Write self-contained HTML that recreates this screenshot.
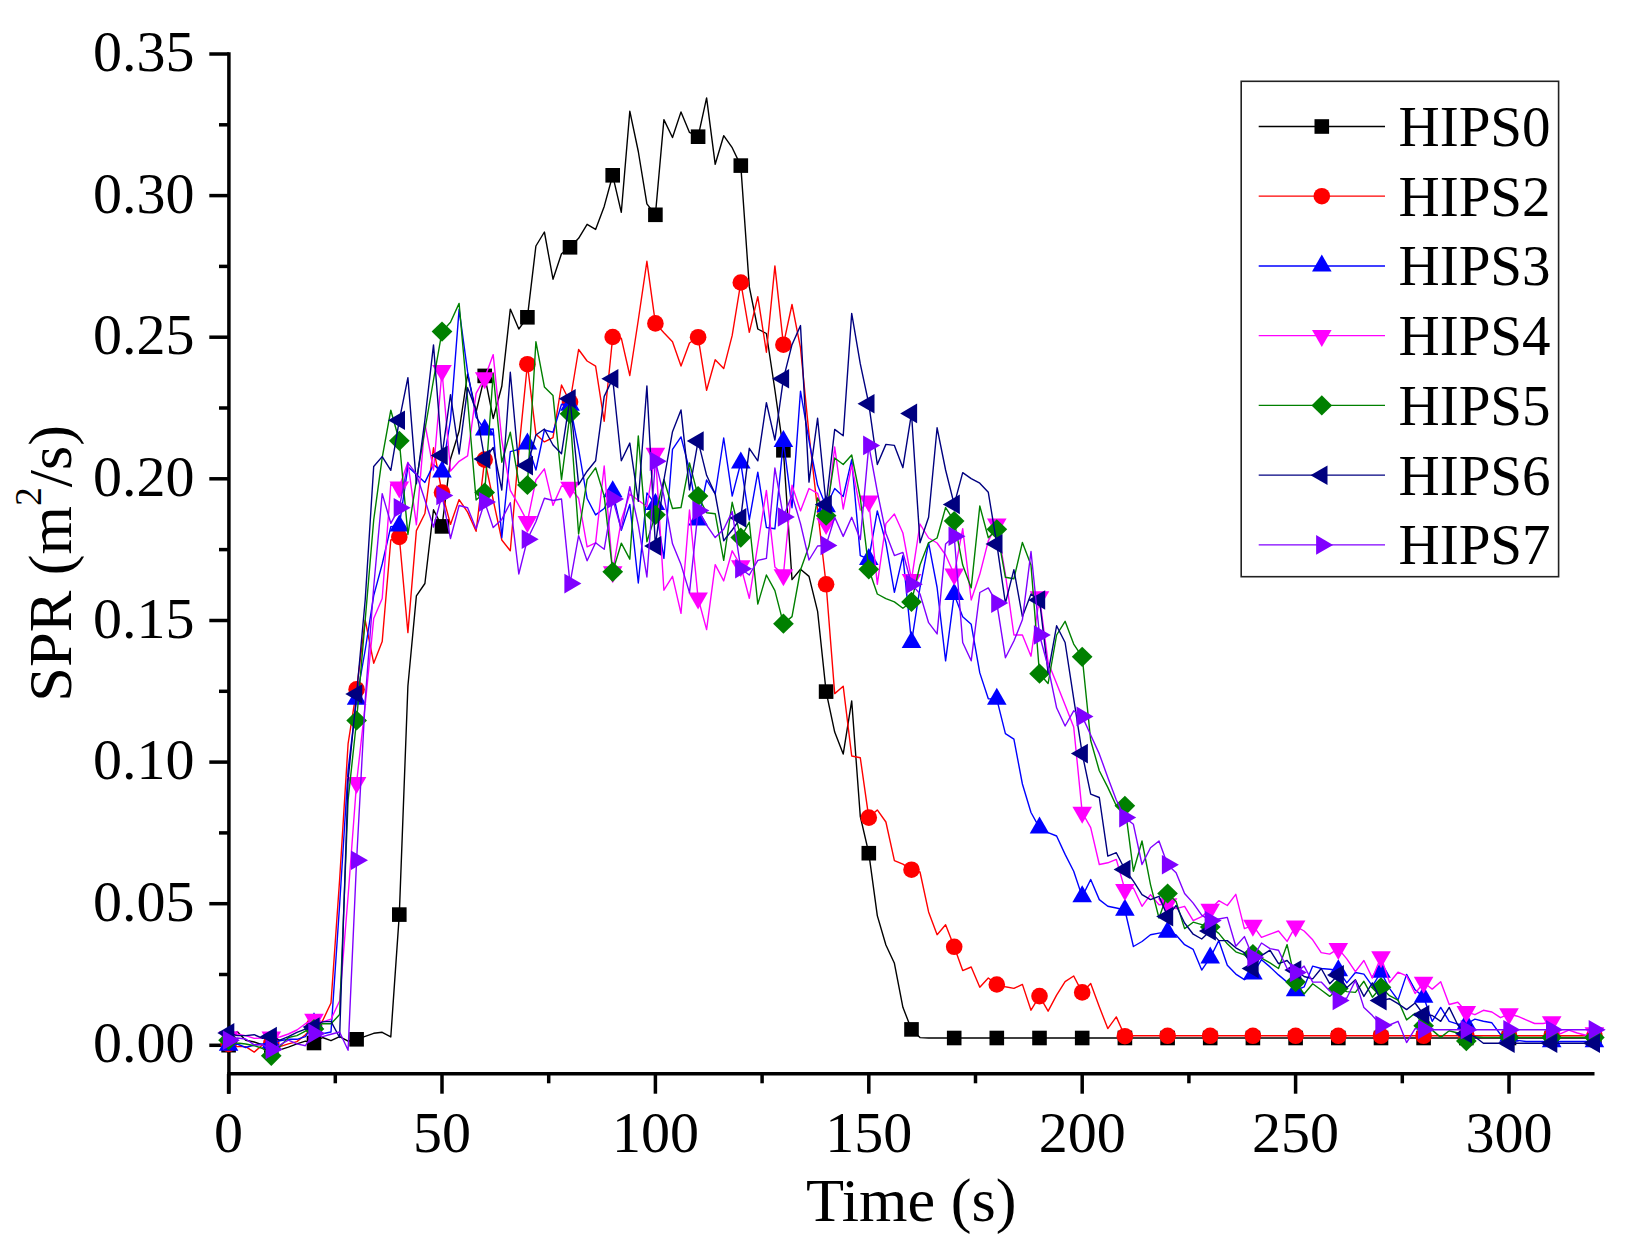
<!DOCTYPE html>
<html><head><meta charset="utf-8"><title>SPR vs Time</title>
<style>
html,body{margin:0;padding:0;background:#fff;}
body{width:1638px;height:1253px;overflow:hidden;}
svg{display:block;}
text{font-family:"Liberation Serif","Times New Roman",serif;fill:#000;}
</style></head><body>
<svg width="1638" height="1253" viewBox="0 0 1638 1253">
<rect width="1638" height="1253" fill="#fff"/>

<g stroke="#000" stroke-width="3.5" fill="none">
<line x1="228.9" y1="52.3" x2="228.9" y2="1093.7"/>
<line x1="227.3" y1="1073.8" x2="1594.5" y2="1073.8"/>
<line x1="209.3" y1="1045.3" x2="228.9" y2="1045.3"/>
<line x1="209.3" y1="903.7" x2="228.9" y2="903.7"/>
<line x1="209.3" y1="762.1" x2="228.9" y2="762.1"/>
<line x1="209.3" y1="620.5" x2="228.9" y2="620.5"/>
<line x1="209.3" y1="478.8" x2="228.9" y2="478.8"/>
<line x1="209.3" y1="337.2" x2="228.9" y2="337.2"/>
<line x1="209.3" y1="195.6" x2="228.9" y2="195.6"/>
<line x1="209.3" y1="54.0" x2="228.9" y2="54.0"/>
<line x1="219" y1="974.5" x2="228.9" y2="974.5"/>
<line x1="219" y1="832.9" x2="228.9" y2="832.9"/>
<line x1="219" y1="691.3" x2="228.9" y2="691.3"/>
<line x1="219" y1="549.6" x2="228.9" y2="549.6"/>
<line x1="219" y1="408.0" x2="228.9" y2="408.0"/>
<line x1="219" y1="266.4" x2="228.9" y2="266.4"/>
<line x1="219" y1="124.8" x2="228.9" y2="124.8"/>
<line x1="228.6" y1="1073.8" x2="228.6" y2="1093.7"/>
<line x1="442.0" y1="1073.8" x2="442.0" y2="1093.7"/>
<line x1="655.4" y1="1073.8" x2="655.4" y2="1093.7"/>
<line x1="868.8" y1="1073.8" x2="868.8" y2="1093.7"/>
<line x1="1082.2" y1="1073.8" x2="1082.2" y2="1093.7"/>
<line x1="1295.6" y1="1073.8" x2="1295.6" y2="1093.7"/>
<line x1="1509.0" y1="1073.8" x2="1509.0" y2="1093.7"/>
<line x1="335.3" y1="1073.8" x2="335.3" y2="1083.3"/>
<line x1="548.7" y1="1073.8" x2="548.7" y2="1083.3"/>
<line x1="762.1" y1="1073.8" x2="762.1" y2="1083.3"/>
<line x1="975.5" y1="1073.8" x2="975.5" y2="1083.3"/>
<line x1="1188.9" y1="1073.8" x2="1188.9" y2="1083.3"/>
<line x1="1402.3" y1="1073.8" x2="1402.3" y2="1083.3"/>
</g>
<polyline fill="none" stroke-width="1.4" stroke-linejoin="round" stroke="#000000" points="228.6,1045.2 237.1,1031.5 245.7,1040.2 254.2,1042.0 262.7,1044.8 271.3,1047.0 279.8,1049.8 288.4,1047.1 296.9,1043.9 305.4,1041.1 314.0,1043.0 322.5,1037.5 331.0,1040.7 339.6,1036.6 348.1,1041.2 356.6,1039.3 365.2,1036.3 373.7,1033.3 382.2,1032.3 390.8,1036.9 399.3,914.6 407.9,686.0 416.4,595.8 424.9,583.5 433.5,509.8 442.0,526.4 450.5,459.0 459.1,431.0 467.6,374.0 476.1,412.0 484.7,375.9 493.2,418.5 501.8,386.3 510.3,309.1 518.8,329.0 527.4,317.3 535.9,246.0 544.4,232.0 553.0,279.2 561.5,253.7 570.0,247.3 578.6,238.3 587.1,224.3 595.6,229.4 604.2,206.4 612.7,175.3 621.3,212.3 629.8,111.2 638.3,151.5 646.9,203.9 655.4,214.8 663.9,119.6 672.5,137.5 681.0,111.9 689.5,132.4 698.1,136.7 706.6,97.9 715.2,164.3 723.7,135.7 732.2,147.7 740.8,165.6 749.3,286.9 757.8,329.0 766.4,333.5 774.9,390.0 783.4,450.3 792.0,579.6 800.5,569.3 809.0,576.4 817.6,611.3 826.1,691.6 834.7,732.1 843.2,754.1 851.7,700.9 860.3,816.5 868.8,853.2 877.3,915.6 885.9,945.0 894.4,963.3 902.9,1007.3 911.5,1029.4 920.0,1037.6 928.6,1038.0 937.1,1038.0 945.6,1038.0 954.2,1038.0 962.7,1038.0 971.2,1038.0 979.8,1038.0 988.3,1038.0 996.8,1038.0 1005.4,1038.0 1013.9,1038.0 1022.4,1038.0 1031.0,1038.0 1039.5,1038.0 1048.1,1038.0 1056.6,1038.0 1065.1,1038.0 1073.7,1038.0 1082.2,1038.0 1090.7,1038.0 1099.3,1038.0 1107.8,1038.0 1116.3,1038.0 1124.9,1038.0 1133.4,1038.0 1142.0,1038.0 1150.5,1038.0 1159.0,1038.0 1167.6,1038.0 1176.1,1038.0 1184.6,1038.0 1193.2,1038.0 1201.7,1038.0 1210.2,1038.0 1218.8,1038.0 1227.3,1038.0 1235.8,1038.0 1244.4,1038.0 1252.9,1038.0 1261.5,1038.0 1270.0,1038.0 1278.5,1038.0 1287.1,1038.0 1295.6,1038.0 1304.1,1038.0 1312.7,1038.0 1321.2,1038.0 1329.7,1038.0 1338.3,1038.0 1346.8,1038.0 1355.4,1038.0 1363.9,1038.0 1372.4,1038.0 1381.0,1038.0 1389.5,1038.0 1398.0,1038.0 1406.6,1038.0 1415.1,1038.0 1423.6,1038.0 1432.2,1038.0 1440.7,1038.0 1449.2,1038.0 1457.8,1038.0 1466.3,1038.0 1474.9,1038.0 1483.4,1038.0 1491.9,1038.0 1500.5,1038.0 1509.0,1038.0 1517.5,1038.0 1526.1,1038.0 1534.6,1038.0 1543.1,1038.0 1551.7,1038.0 1560.2,1038.0 1568.8,1038.0 1577.3,1038.0 1585.8,1038.0 1594.4,1038.0"/>
<rect x="221.3" y="1037.9" width="14.6" height="14.6" fill="#000000"/>
<rect x="264.0" y="1039.7" width="14.6" height="14.6" fill="#000000"/>
<rect x="306.7" y="1035.7" width="14.6" height="14.6" fill="#000000"/>
<rect x="349.3" y="1032.0" width="14.6" height="14.6" fill="#000000"/>
<rect x="392.0" y="907.3" width="14.6" height="14.6" fill="#000000"/>
<rect x="434.7" y="519.1" width="14.6" height="14.6" fill="#000000"/>
<rect x="477.4" y="368.6" width="14.6" height="14.6" fill="#000000"/>
<rect x="520.1" y="310.0" width="14.6" height="14.6" fill="#000000"/>
<rect x="562.7" y="240.0" width="14.6" height="14.6" fill="#000000"/>
<rect x="605.4" y="168.0" width="14.6" height="14.6" fill="#000000"/>
<rect x="648.1" y="207.5" width="14.6" height="14.6" fill="#000000"/>
<rect x="690.8" y="129.4" width="14.6" height="14.6" fill="#000000"/>
<rect x="733.5" y="158.3" width="14.6" height="14.6" fill="#000000"/>
<rect x="776.1" y="443.0" width="14.6" height="14.6" fill="#000000"/>
<rect x="818.8" y="684.3" width="14.6" height="14.6" fill="#000000"/>
<rect x="861.5" y="845.9" width="14.6" height="14.6" fill="#000000"/>
<rect x="904.2" y="1022.1" width="14.6" height="14.6" fill="#000000"/>
<rect x="946.9" y="1030.7" width="14.6" height="14.6" fill="#000000"/>
<rect x="989.5" y="1030.7" width="14.6" height="14.6" fill="#000000"/>
<rect x="1032.2" y="1030.7" width="14.6" height="14.6" fill="#000000"/>
<rect x="1074.9" y="1030.7" width="14.6" height="14.6" fill="#000000"/>
<rect x="1117.6" y="1030.7" width="14.6" height="14.6" fill="#000000"/>
<rect x="1160.3" y="1030.7" width="14.6" height="14.6" fill="#000000"/>
<rect x="1202.9" y="1030.7" width="14.6" height="14.6" fill="#000000"/>
<rect x="1245.6" y="1030.7" width="14.6" height="14.6" fill="#000000"/>
<rect x="1288.3" y="1030.7" width="14.6" height="14.6" fill="#000000"/>
<rect x="1331.0" y="1030.7" width="14.6" height="14.6" fill="#000000"/>
<rect x="1373.7" y="1030.7" width="14.6" height="14.6" fill="#000000"/>
<rect x="1416.3" y="1030.7" width="14.6" height="14.6" fill="#000000"/>
<rect x="1459.0" y="1030.7" width="14.6" height="14.6" fill="#000000"/>
<rect x="1501.7" y="1030.7" width="14.6" height="14.6" fill="#000000"/>
<rect x="1544.4" y="1030.7" width="14.6" height="14.6" fill="#000000"/>
<rect x="1587.1" y="1030.7" width="14.6" height="14.6" fill="#000000"/>
<polyline fill="none" stroke-width="1.4" stroke-linejoin="round" stroke="#ff0000" points="228.6,1044.0 237.1,1046.6 245.7,1046.6 254.2,1052.1 262.7,1044.8 271.3,1043.0 279.8,1046.6 288.4,1043.9 296.9,1041.6 305.4,1034.7 314.0,1025.6 322.5,1021.0 331.0,1003.0 339.6,880.0 348.1,743.7 356.6,689.4 365.2,620.1 373.7,663.2 382.2,641.6 390.8,540.0 399.3,537.0 407.9,632.6 416.4,530.6 424.9,513.5 433.5,447.8 442.0,492.5 450.5,524.4 459.1,499.6 467.6,512.1 476.1,531.3 484.7,459.6 493.2,500.0 501.8,540.0 510.3,550.7 518.8,450.6 527.4,364.2 535.9,434.3 544.4,441.9 553.0,437.6 561.5,385.0 570.0,402.0 578.6,349.5 587.1,361.0 595.6,366.1 604.2,421.3 612.7,337.0 621.3,338.2 629.8,375.5 638.3,320.0 646.9,261.3 655.4,323.4 663.9,332.8 672.5,341.8 681.0,366.0 689.5,343.0 698.1,337.2 706.6,390.3 715.2,359.7 723.7,368.6 732.2,335.4 740.8,282.5 749.3,332.3 757.8,296.6 766.4,352.2 774.9,265.9 783.4,344.7 792.0,304.5 800.5,347.9 809.0,434.2 817.6,510.0 826.1,584.3 834.7,693.6 843.2,686.2 851.7,756.0 860.3,757.8 868.8,817.6 877.3,809.9 885.9,822.0 894.4,860.6 902.9,864.2 911.5,869.7 920.0,872.0 928.6,911.9 937.1,934.7 945.6,924.8 954.2,946.8 962.7,970.6 971.2,967.0 979.8,987.2 988.3,978.0 996.8,984.5 1005.4,986.7 1013.9,988.4 1022.4,984.4 1031.0,1010.2 1039.5,996.1 1048.1,1011.2 1056.6,995.1 1065.1,981.7 1073.7,976.0 1082.2,992.4 1090.7,983.4 1099.3,1006.8 1107.8,1028.6 1116.3,1016.9 1124.9,1036.2 1133.4,1035.8 1142.0,1035.8 1150.5,1035.8 1159.0,1035.8 1167.6,1035.8 1176.1,1035.8 1184.6,1035.8 1193.2,1035.8 1201.7,1035.8 1210.2,1035.8 1218.8,1035.8 1227.3,1035.8 1235.8,1035.8 1244.4,1035.8 1252.9,1035.8 1261.5,1035.8 1270.0,1035.8 1278.5,1035.8 1287.1,1035.8 1295.6,1035.8 1304.1,1035.8 1312.7,1035.8 1321.2,1035.8 1329.7,1035.8 1338.3,1035.8 1346.8,1035.8 1355.4,1035.8 1363.9,1035.8 1372.4,1035.8 1381.0,1035.8 1389.5,1035.8 1398.0,1035.8 1406.6,1035.8 1415.1,1035.8 1423.6,1035.8 1432.2,1035.8 1440.7,1035.8 1449.2,1035.8 1457.8,1035.8 1466.3,1035.8 1474.9,1035.8 1483.4,1035.8 1491.9,1035.8 1500.5,1035.8 1509.0,1035.8 1517.5,1035.8 1526.1,1035.8 1534.6,1035.8 1543.1,1035.8 1551.7,1035.8 1560.2,1035.8 1568.8,1035.8 1577.3,1035.8 1585.8,1035.8 1594.4,1035.8"/>
<circle cx="228.6" cy="1044.0" r="8.3" fill="#ff0000"/>
<circle cx="271.3" cy="1043.0" r="8.3" fill="#ff0000"/>
<circle cx="314.0" cy="1025.6" r="8.3" fill="#ff0000"/>
<circle cx="356.6" cy="689.4" r="8.3" fill="#ff0000"/>
<circle cx="399.3" cy="537.0" r="8.3" fill="#ff0000"/>
<circle cx="442.0" cy="492.5" r="8.3" fill="#ff0000"/>
<circle cx="484.7" cy="459.6" r="8.3" fill="#ff0000"/>
<circle cx="527.4" cy="364.2" r="8.3" fill="#ff0000"/>
<circle cx="570.0" cy="402.0" r="8.3" fill="#ff0000"/>
<circle cx="612.7" cy="337.0" r="8.3" fill="#ff0000"/>
<circle cx="655.4" cy="323.4" r="8.3" fill="#ff0000"/>
<circle cx="698.1" cy="337.2" r="8.3" fill="#ff0000"/>
<circle cx="740.8" cy="282.5" r="8.3" fill="#ff0000"/>
<circle cx="783.4" cy="344.7" r="8.3" fill="#ff0000"/>
<circle cx="826.1" cy="584.3" r="8.3" fill="#ff0000"/>
<circle cx="868.8" cy="817.6" r="8.3" fill="#ff0000"/>
<circle cx="911.5" cy="869.7" r="8.3" fill="#ff0000"/>
<circle cx="954.2" cy="946.8" r="8.3" fill="#ff0000"/>
<circle cx="996.8" cy="984.5" r="8.3" fill="#ff0000"/>
<circle cx="1039.5" cy="996.1" r="8.3" fill="#ff0000"/>
<circle cx="1082.2" cy="992.4" r="8.3" fill="#ff0000"/>
<circle cx="1124.9" cy="1036.2" r="8.3" fill="#ff0000"/>
<circle cx="1167.6" cy="1035.8" r="8.3" fill="#ff0000"/>
<circle cx="1210.2" cy="1035.8" r="8.3" fill="#ff0000"/>
<circle cx="1252.9" cy="1035.8" r="8.3" fill="#ff0000"/>
<circle cx="1295.6" cy="1035.8" r="8.3" fill="#ff0000"/>
<circle cx="1338.3" cy="1035.8" r="8.3" fill="#ff0000"/>
<circle cx="1381.0" cy="1035.8" r="8.3" fill="#ff0000"/>
<circle cx="1423.6" cy="1035.8" r="8.3" fill="#ff0000"/>
<circle cx="1466.3" cy="1035.8" r="8.3" fill="#ff0000"/>
<circle cx="1509.0" cy="1035.8" r="8.3" fill="#ff0000"/>
<circle cx="1551.7" cy="1035.8" r="8.3" fill="#ff0000"/>
<circle cx="1594.4" cy="1035.8" r="8.3" fill="#ff0000"/>
<polyline fill="none" stroke-width="1.4" stroke-linejoin="round" stroke="#0000ff" points="228.6,1045.0 237.1,1044.0 245.7,1047.5 254.2,1045.0 262.7,1044.0 271.3,1043.0 279.8,1040.7 288.4,1039.3 296.9,1039.3 305.4,1036.6 314.0,1023.6 322.5,1033.8 331.0,1032.0 339.6,905.0 348.1,770.0 356.6,699.0 365.2,650.0 373.7,595.6 382.2,564.0 390.8,526.6 399.3,525.7 407.9,466.8 416.4,474.6 424.9,482.4 433.5,464.6 442.0,471.9 450.5,420.0 459.1,309.4 467.6,371.9 476.1,417.1 484.7,429.9 493.2,429.0 501.8,537.7 510.3,451.6 518.8,449.4 527.4,443.9 535.9,470.0 544.4,430.0 553.0,432.2 561.5,404.2 570.0,405.0 578.6,449.0 587.1,498.5 595.6,514.9 604.2,508.5 612.7,491.6 621.3,530.3 629.8,504.4 638.3,583.0 646.9,493.0 655.4,504.3 663.9,558.4 672.5,449.4 681.0,436.9 689.5,470.0 698.1,519.9 706.6,480.0 715.2,494.0 723.7,438.0 732.2,496.1 740.8,462.8 749.3,520.0 757.8,472.2 766.4,527.5 774.9,528.8 783.4,441.3 792.0,507.7 800.5,391.1 809.0,440.6 817.6,485.3 826.1,506.5 834.7,488.5 843.2,496.5 851.7,459.7 860.3,555.6 868.8,559.2 877.3,510.9 885.9,542.8 894.4,592.3 902.9,555.6 911.5,642.3 920.0,587.5 928.6,542.8 937.1,587.5 945.6,660.9 954.2,594.4 962.7,616.7 971.2,624.3 979.8,672.9 988.3,698.7 996.8,699.1 1005.4,733.7 1013.9,739.2 1022.4,784.0 1031.0,812.5 1039.5,827.9 1048.1,832.6 1056.6,836.0 1065.1,854.4 1073.7,871.2 1082.2,896.6 1090.7,879.5 1099.3,899.6 1107.8,906.3 1116.3,908.0 1124.9,910.0 1133.4,946.5 1142.0,941.5 1150.5,934.8 1159.0,933.1 1167.6,932.0 1176.1,935.0 1184.6,944.7 1193.2,949.4 1201.7,970.1 1210.2,957.7 1218.8,940.6 1227.3,965.3 1235.8,974.1 1244.4,979.7 1252.9,973.7 1261.5,959.7 1270.0,966.9 1278.5,974.9 1287.1,982.1 1295.6,990.5 1304.1,986.9 1312.7,966.1 1321.2,968.5 1329.7,969.3 1338.3,970.5 1346.8,982.9 1355.4,972.5 1363.9,974.1 1372.4,986.1 1381.0,972.0 1389.5,988.4 1398.0,1000.1 1406.6,974.4 1415.1,989.8 1423.6,997.0 1432.2,1021.3 1440.7,1007.4 1449.2,1021.3 1457.8,1024.2 1466.3,1024.0 1474.9,1019.1 1483.4,1021.3 1491.9,1022.8 1500.5,1034.5 1509.0,1036.0 1517.5,1040.4 1526.1,1041.5 1534.6,1041.5 1543.1,1041.5 1551.7,1041.5 1560.2,1041.5 1568.8,1041.5 1577.3,1041.5 1585.8,1041.5 1594.4,1041.5"/>
<path d="M228.6 1033.7L238.4 1050.7L218.8 1050.7Z" fill="#0000ff"/>
<path d="M271.3 1031.7L281.1 1048.7L261.5 1048.7Z" fill="#0000ff"/>
<path d="M314.0 1012.3L323.8 1029.3L304.2 1029.3Z" fill="#0000ff"/>
<path d="M356.6 687.7L366.4 704.7L346.8 704.7Z" fill="#0000ff"/>
<path d="M399.3 514.4L409.1 531.4L389.5 531.4Z" fill="#0000ff"/>
<path d="M442.0 460.6L451.8 477.6L432.2 477.6Z" fill="#0000ff"/>
<path d="M484.7 418.6L494.5 435.6L474.9 435.6Z" fill="#0000ff"/>
<path d="M527.4 432.6L537.2 449.6L517.6 449.6Z" fill="#0000ff"/>
<path d="M570.0 393.7L579.8 410.7L560.2 410.7Z" fill="#0000ff"/>
<path d="M612.7 480.3L622.5 497.3L602.9 497.3Z" fill="#0000ff"/>
<path d="M655.4 493.0L665.2 510.0L645.6 510.0Z" fill="#0000ff"/>
<path d="M698.1 508.6L707.9 525.6L688.3 525.6Z" fill="#0000ff"/>
<path d="M740.8 451.5L750.6 468.5L731.0 468.5Z" fill="#0000ff"/>
<path d="M783.4 430.0L793.2 447.0L773.6 447.0Z" fill="#0000ff"/>
<path d="M826.1 495.2L835.9 512.2L816.3 512.2Z" fill="#0000ff"/>
<path d="M868.8 547.9L878.6 564.9L859.0 564.9Z" fill="#0000ff"/>
<path d="M911.5 631.0L921.3 648.0L901.7 648.0Z" fill="#0000ff"/>
<path d="M954.2 583.1L964.0 600.1L944.4 600.1Z" fill="#0000ff"/>
<path d="M996.8 687.8L1006.6 704.8L987.0 704.8Z" fill="#0000ff"/>
<path d="M1039.5 816.6L1049.3 833.6L1029.7 833.6Z" fill="#0000ff"/>
<path d="M1082.2 885.3L1092.0 902.3L1072.4 902.3Z" fill="#0000ff"/>
<path d="M1124.9 898.7L1134.7 915.7L1115.1 915.7Z" fill="#0000ff"/>
<path d="M1167.6 920.7L1177.4 937.7L1157.8 937.7Z" fill="#0000ff"/>
<path d="M1210.2 946.4L1220.0 963.4L1200.4 963.4Z" fill="#0000ff"/>
<path d="M1252.9 962.4L1262.7 979.4L1243.1 979.4Z" fill="#0000ff"/>
<path d="M1295.6 979.2L1305.4 996.2L1285.8 996.2Z" fill="#0000ff"/>
<path d="M1338.3 959.2L1348.1 976.2L1328.5 976.2Z" fill="#0000ff"/>
<path d="M1381.0 960.7L1390.8 977.7L1371.2 977.7Z" fill="#0000ff"/>
<path d="M1423.6 985.7L1433.4 1002.7L1413.8 1002.7Z" fill="#0000ff"/>
<path d="M1466.3 1012.7L1476.1 1029.7L1456.5 1029.7Z" fill="#0000ff"/>
<path d="M1509.0 1024.7L1518.8 1041.7L1499.2 1041.7Z" fill="#0000ff"/>
<path d="M1551.7 1030.2L1561.5 1047.2L1541.9 1047.2Z" fill="#0000ff"/>
<path d="M1594.4 1030.2L1604.2 1047.2L1584.6 1047.2Z" fill="#0000ff"/>
<polyline fill="none" stroke-width="1.4" stroke-linejoin="round" stroke="#ff00ff" points="228.6,1037.0 237.1,1034.3 245.7,1035.6 254.2,1038.4 262.7,1038.0 271.3,1037.2 279.8,1037.0 288.4,1034.0 296.9,1030.0 305.4,1023.7 314.0,1019.5 322.5,1021.9 331.0,1019.2 339.6,1001.0 348.1,896.0 356.6,782.7 365.2,705.0 373.7,618.6 382.2,598.5 390.8,484.0 399.3,487.1 407.9,462.3 416.4,524.8 424.9,423.6 433.5,470.0 442.0,370.8 450.5,471.0 459.1,461.3 467.6,455.9 476.1,393.4 484.7,377.9 493.2,354.6 501.8,440.0 510.3,490.3 518.8,505.4 527.4,521.7 535.9,480.0 544.4,468.8 553.0,505.4 561.5,486.0 570.0,487.5 578.6,498.2 587.1,546.9 595.6,542.8 604.2,466.0 612.7,571.9 621.3,520.0 629.8,494.0 638.3,500.2 646.9,506.5 655.4,453.5 663.9,590.2 672.5,576.3 681.0,613.4 689.5,510.0 698.1,598.3 706.6,629.6 715.2,564.7 723.7,580.9 732.2,550.8 740.8,566.0 749.3,598.3 757.8,545.0 766.4,490.4 774.9,567.0 783.4,575.0 792.0,485.3 800.5,510.9 809.0,488.5 817.6,493.3 826.1,523.6 834.7,447.0 843.2,509.0 851.7,465.0 860.3,510.0 868.8,501.3 877.3,584.3 885.9,523.6 894.4,514.0 902.9,533.0 911.5,579.6 920.0,524.0 928.6,538.0 937.1,543.0 945.6,555.0 954.2,574.3 962.7,528.7 971.2,600.0 979.8,574.3 988.3,540.9 996.8,524.2 1005.4,574.3 1013.9,635.0 1022.4,635.0 1031.0,656.2 1039.5,597.0 1048.1,662.3 1056.6,683.5 1065.1,705.0 1073.7,727.0 1082.2,812.5 1090.7,827.6 1099.3,864.5 1107.8,862.8 1116.3,859.4 1124.9,889.6 1133.4,888.0 1142.0,906.3 1150.5,894.6 1159.0,904.7 1167.6,903.9 1176.1,908.7 1184.6,906.3 1193.2,920.6 1201.7,916.6 1210.2,909.5 1218.8,900.7 1227.3,905.5 1235.8,894.3 1244.4,928.6 1252.9,925.4 1261.5,937.4 1270.0,934.2 1278.5,931.0 1287.1,941.4 1295.6,926.2 1304.1,931.0 1312.7,939.8 1321.2,952.6 1329.7,954.1 1338.3,948.6 1346.8,958.9 1355.4,971.7 1363.9,960.5 1372.4,978.1 1381.0,957.0 1389.5,982.5 1398.0,972.2 1406.6,975.9 1415.1,993.5 1423.6,982.5 1432.2,989.1 1440.7,981.8 1449.2,1004.5 1457.8,1002.3 1466.3,1011.8 1474.9,1014.7 1483.4,1010.3 1491.9,1012.0 1500.5,1017.7 1509.0,1014.0 1517.5,1016.2 1526.1,1019.9 1534.6,1023.5 1543.1,1023.5 1551.7,1022.0 1560.2,1033.8 1568.8,1030.1 1577.3,1033.0 1585.8,1035.2 1594.4,1033.0"/>
<path d="M228.6 1048.3L238.4 1031.3L218.8 1031.3Z" fill="#ff00ff"/>
<path d="M271.3 1048.5L281.1 1031.5L261.5 1031.5Z" fill="#ff00ff"/>
<path d="M314.0 1030.8L323.8 1013.8L304.2 1013.8Z" fill="#ff00ff"/>
<path d="M356.6 794.0L366.4 777.0L346.8 777.0Z" fill="#ff00ff"/>
<path d="M399.3 498.4L409.1 481.4L389.5 481.4Z" fill="#ff00ff"/>
<path d="M442.0 382.1L451.8 365.1L432.2 365.1Z" fill="#ff00ff"/>
<path d="M484.7 389.2L494.5 372.2L474.9 372.2Z" fill="#ff00ff"/>
<path d="M527.4 533.0L537.2 516.0L517.6 516.0Z" fill="#ff00ff"/>
<path d="M570.0 498.8L579.8 481.8L560.2 481.8Z" fill="#ff00ff"/>
<path d="M612.7 583.2L622.5 566.2L602.9 566.2Z" fill="#ff00ff"/>
<path d="M655.4 464.8L665.2 447.8L645.6 447.8Z" fill="#ff00ff"/>
<path d="M698.1 609.6L707.9 592.6L688.3 592.6Z" fill="#ff00ff"/>
<path d="M740.8 577.3L750.6 560.3L731.0 560.3Z" fill="#ff00ff"/>
<path d="M783.4 586.3L793.2 569.3L773.6 569.3Z" fill="#ff00ff"/>
<path d="M826.1 534.9L835.9 517.9L816.3 517.9Z" fill="#ff00ff"/>
<path d="M868.8 512.6L878.6 495.6L859.0 495.6Z" fill="#ff00ff"/>
<path d="M911.5 590.9L921.3 573.9L901.7 573.9Z" fill="#ff00ff"/>
<path d="M954.2 585.6L964.0 568.6L944.4 568.6Z" fill="#ff00ff"/>
<path d="M996.8 535.5L1006.6 518.5L987.0 518.5Z" fill="#ff00ff"/>
<path d="M1039.5 608.3L1049.3 591.3L1029.7 591.3Z" fill="#ff00ff"/>
<path d="M1082.2 823.8L1092.0 806.8L1072.4 806.8Z" fill="#ff00ff"/>
<path d="M1124.9 900.9L1134.7 883.9L1115.1 883.9Z" fill="#ff00ff"/>
<path d="M1167.6 915.2L1177.4 898.2L1157.8 898.2Z" fill="#ff00ff"/>
<path d="M1210.2 920.8L1220.0 903.8L1200.4 903.8Z" fill="#ff00ff"/>
<path d="M1252.9 936.7L1262.7 919.7L1243.1 919.7Z" fill="#ff00ff"/>
<path d="M1295.6 937.5L1305.4 920.5L1285.8 920.5Z" fill="#ff00ff"/>
<path d="M1338.3 959.9L1348.1 942.9L1328.5 942.9Z" fill="#ff00ff"/>
<path d="M1381.0 968.3L1390.8 951.3L1371.2 951.3Z" fill="#ff00ff"/>
<path d="M1423.6 993.8L1433.4 976.8L1413.8 976.8Z" fill="#ff00ff"/>
<path d="M1466.3 1023.1L1476.1 1006.1L1456.5 1006.1Z" fill="#ff00ff"/>
<path d="M1509.0 1025.3L1518.8 1008.3L1499.2 1008.3Z" fill="#ff00ff"/>
<path d="M1551.7 1033.3L1561.5 1016.3L1541.9 1016.3Z" fill="#ff00ff"/>
<path d="M1594.4 1044.3L1604.2 1027.3L1584.6 1027.3Z" fill="#ff00ff"/>
<polyline fill="none" stroke-width="1.4" stroke-linejoin="round" stroke="#008000" points="228.6,1040.2 237.1,1043.0 245.7,1044.0 254.2,1045.7 262.7,1048.5 271.3,1055.8 279.8,1046.6 288.4,1037.5 296.9,1035.6 305.4,1031.1 314.0,1029.0 322.5,1023.7 331.0,1023.7 339.6,1014.6 348.1,800.0 356.6,720.5 365.2,620.0 373.7,520.0 382.2,457.6 390.8,410.2 399.3,440.8 407.9,534.5 416.4,480.0 424.9,430.0 433.5,380.0 442.0,331.6 450.5,322.3 459.1,303.4 467.6,400.0 476.1,500.0 484.7,492.5 493.2,373.5 501.8,462.3 510.3,432.2 518.8,482.8 527.4,485.0 535.9,341.7 544.4,386.9 553.0,395.6 561.5,479.6 570.0,413.8 578.6,534.0 587.1,479.6 595.6,467.8 604.2,496.1 612.7,571.8 621.3,543.2 629.8,559.2 638.3,435.9 646.9,541.7 655.4,514.8 663.9,479.5 672.5,508.5 681.0,507.5 689.5,462.9 698.1,496.1 706.6,512.7 715.2,513.7 723.7,560.4 732.2,502.3 740.8,537.6 749.3,522.0 757.8,604.1 766.4,575.0 774.9,590.7 783.4,623.7 792.0,616.6 800.5,570.0 809.0,546.0 817.6,498.0 826.1,515.7 834.7,458.0 843.2,464.5 851.7,455.0 860.3,498.0 868.8,569.3 877.3,594.0 885.9,598.7 894.4,601.9 902.9,608.3 911.5,601.9 920.0,565.0 928.6,542.8 937.1,538.0 945.6,507.5 954.2,521.1 962.7,565.1 971.2,587.9 979.8,506.0 988.3,537.8 996.8,529.3 1005.4,577.3 1013.9,578.8 1022.4,542.4 1031.0,565.1 1039.5,673.7 1048.1,683.5 1056.6,635.0 1065.1,621.3 1073.7,644.1 1082.2,656.8 1090.7,740.5 1099.3,770.7 1107.8,787.4 1116.3,805.8 1124.9,805.8 1133.4,871.2 1142.0,841.0 1150.5,884.6 1159.0,918.0 1167.6,893.5 1176.1,901.5 1184.6,928.6 1193.2,922.2 1201.7,924.6 1210.2,927.0 1218.8,933.4 1227.3,943.8 1235.8,951.8 1244.4,954.9 1252.9,954.1 1261.5,958.1 1270.0,962.9 1278.5,968.5 1287.1,944.6 1295.6,982.1 1304.1,994.0 1312.7,983.7 1321.2,990.0 1329.7,996.4 1338.3,988.5 1346.8,991.6 1355.4,992.4 1363.9,981.3 1372.4,997.2 1381.0,987.3 1389.5,995.7 1398.0,1000.1 1406.6,1019.9 1415.1,1013.3 1423.6,1025.7 1432.2,1030.1 1440.7,1037.4 1449.2,1030.8 1457.8,1033.0 1466.3,1041.1 1474.9,1036.7 1483.4,1037.4 1491.9,1037.4 1500.5,1037.4 1509.0,1037.4 1517.5,1037.4 1526.1,1037.4 1534.6,1037.4 1543.1,1037.4 1551.7,1037.4 1560.2,1037.4 1568.8,1037.4 1577.3,1037.4 1585.8,1037.4 1594.4,1037.4"/>
<path d="M228.6 1030.1L238.9 1040.2L228.6 1050.3L218.2 1040.2Z" fill="#008000"/>
<path d="M271.3 1045.7L281.6 1055.8L271.3 1065.9L260.9 1055.8Z" fill="#008000"/>
<path d="M314.0 1018.9L324.3 1029.0L314.0 1039.1L303.6 1029.0Z" fill="#008000"/>
<path d="M356.6 710.4L367.0 720.5L356.6 730.6L346.3 720.5Z" fill="#008000"/>
<path d="M399.3 430.7L409.7 440.8L399.3 450.9L389.0 440.8Z" fill="#008000"/>
<path d="M442.0 321.5L452.4 331.6L442.0 341.7L431.6 331.6Z" fill="#008000"/>
<path d="M484.7 482.4L495.0 492.5L484.7 502.6L474.3 492.5Z" fill="#008000"/>
<path d="M527.4 474.9L537.7 485.0L527.4 495.1L517.0 485.0Z" fill="#008000"/>
<path d="M570.0 403.7L580.4 413.8L570.0 423.9L559.7 413.8Z" fill="#008000"/>
<path d="M612.7 561.7L623.1 571.8L612.7 581.9L602.4 571.8Z" fill="#008000"/>
<path d="M655.4 504.7L665.8 514.8L655.4 524.9L645.0 514.8Z" fill="#008000"/>
<path d="M698.1 486.0L708.4 496.1L698.1 506.2L687.7 496.1Z" fill="#008000"/>
<path d="M740.8 527.5L751.1 537.6L740.8 547.7L730.4 537.6Z" fill="#008000"/>
<path d="M783.4 613.6L793.8 623.7L783.4 633.8L773.1 623.7Z" fill="#008000"/>
<path d="M826.1 505.6L836.5 515.7L826.1 525.8L815.8 515.7Z" fill="#008000"/>
<path d="M868.8 559.2L879.1 569.3L868.8 579.4L858.4 569.3Z" fill="#008000"/>
<path d="M911.5 591.8L921.8 601.9L911.5 612.0L901.1 601.9Z" fill="#008000"/>
<path d="M954.2 511.0L964.5 521.1L954.2 531.2L943.8 521.1Z" fill="#008000"/>
<path d="M996.8 519.2L1007.2 529.3L996.8 539.4L986.5 529.3Z" fill="#008000"/>
<path d="M1039.5 663.6L1049.9 673.7L1039.5 683.8L1029.2 673.7Z" fill="#008000"/>
<path d="M1082.2 646.7L1092.5 656.8L1082.2 666.9L1071.8 656.8Z" fill="#008000"/>
<path d="M1124.9 795.7L1135.2 805.8L1124.9 815.9L1114.5 805.8Z" fill="#008000"/>
<path d="M1167.6 883.4L1177.9 893.5L1167.6 903.6L1157.2 893.5Z" fill="#008000"/>
<path d="M1210.2 916.9L1220.6 927.0L1210.2 937.1L1199.9 927.0Z" fill="#008000"/>
<path d="M1252.9 944.0L1263.3 954.1L1252.9 964.2L1242.6 954.1Z" fill="#008000"/>
<path d="M1295.6 972.0L1305.9 982.1L1295.6 992.2L1285.2 982.1Z" fill="#008000"/>
<path d="M1338.3 978.4L1348.6 988.5L1338.3 998.6L1327.9 988.5Z" fill="#008000"/>
<path d="M1381.0 977.2L1391.3 987.3L1381.0 997.4L1370.6 987.3Z" fill="#008000"/>
<path d="M1423.6 1015.6L1434.0 1025.7L1423.6 1035.8L1413.3 1025.7Z" fill="#008000"/>
<path d="M1466.3 1031.0L1476.7 1041.1L1466.3 1051.2L1456.0 1041.1Z" fill="#008000"/>
<path d="M1509.0 1027.3L1519.3 1037.4L1509.0 1047.5L1498.6 1037.4Z" fill="#008000"/>
<path d="M1551.7 1027.3L1562.0 1037.4L1551.7 1047.5L1541.3 1037.4Z" fill="#008000"/>
<path d="M1594.4 1027.3L1604.7 1037.4L1594.4 1047.5L1584.0 1037.4Z" fill="#008000"/>
<polyline fill="none" stroke-width="1.4" stroke-linejoin="round" stroke="#000080" points="228.6,1032.9 237.1,1035.6 245.7,1035.6 254.2,1034.7 262.7,1038.4 271.3,1036.6 279.8,1040.2 288.4,1036.6 296.9,1032.4 305.4,1029.2 314.0,1027.0 322.5,1021.9 331.0,1021.4 339.6,1037.5 348.1,780.0 356.6,694.0 365.2,600.0 373.7,466.5 382.2,456.6 390.8,470.3 399.3,420.3 407.9,377.6 416.4,483.7 424.9,420.0 433.5,344.9 442.0,455.4 450.5,394.6 459.1,454.0 467.6,387.8 476.1,410.0 484.7,459.1 493.2,447.5 501.8,490.0 510.3,372.2 518.8,466.5 527.4,465.6 535.9,435.0 544.4,429.0 553.0,445.0 561.5,453.7 570.0,398.7 578.6,484.7 587.1,471.2 595.6,460.8 604.2,396.4 612.7,378.8 621.3,460.8 629.8,443.1 638.3,501.3 646.9,386.0 655.4,545.9 663.9,480.0 672.5,431.7 681.0,409.9 689.5,489.9 698.1,441.1 706.6,475.3 715.2,494.0 723.7,540.7 732.2,530.0 740.8,517.9 749.3,448.3 757.8,460.8 766.4,402.7 774.9,440.0 783.4,378.8 792.0,344.7 800.5,325.6 809.0,482.1 817.6,418.2 826.1,504.5 834.7,429.4 843.2,435.8 851.7,313.4 860.3,363.9 868.8,403.8 877.3,464.5 885.9,444.4 894.4,445.4 902.9,467.7 911.5,413.4 920.0,542.8 928.6,517.3 937.1,427.8 945.6,470.0 954.2,504.4 962.7,472.6 971.2,478.6 979.8,483.2 988.3,492.3 996.8,543.9 1005.4,603.1 1013.9,569.7 1022.4,616.7 1031.0,594.0 1039.5,600.0 1048.1,672.9 1056.6,625.8 1065.1,642.5 1073.7,698.7 1082.2,753.6 1090.7,794.1 1099.3,797.5 1107.8,856.1 1116.3,852.7 1124.9,869.5 1133.4,881.2 1142.0,894.6 1150.5,899.6 1159.0,896.3 1167.6,916.6 1176.1,905.5 1184.6,923.0 1193.2,934.2 1201.7,939.0 1210.2,931.0 1218.8,940.6 1227.3,940.6 1235.8,947.8 1244.4,952.6 1252.9,968.5 1261.5,955.7 1270.0,950.2 1278.5,963.7 1287.1,960.5 1295.6,970.1 1304.1,976.5 1312.7,978.9 1321.2,968.5 1329.7,983.7 1338.3,974.9 1346.8,987.7 1355.4,979.7 1363.9,996.4 1372.4,982.9 1381.0,1000.6 1389.5,998.7 1398.0,1003.7 1406.6,1009.6 1415.1,1003.0 1423.6,1014.7 1432.2,1015.5 1440.7,1021.3 1449.2,1007.4 1457.8,1025.0 1466.3,1033.8 1474.9,1036.7 1483.4,1043.3 1491.9,1043.3 1500.5,1043.3 1509.0,1043.3 1517.5,1043.3 1526.1,1043.3 1534.6,1043.3 1543.1,1043.3 1551.7,1043.3 1560.2,1043.3 1568.8,1043.3 1577.3,1043.3 1585.8,1043.3 1594.4,1043.3"/>
<path d="M217.3 1032.9L234.3 1023.1L234.3 1042.7Z" fill="#000080"/>
<path d="M260.0 1036.6L276.9 1026.8L276.9 1046.4Z" fill="#000080"/>
<path d="M302.6 1027.0L319.6 1017.2L319.6 1036.8Z" fill="#000080"/>
<path d="M345.3 694.0L362.3 684.2L362.3 703.8Z" fill="#000080"/>
<path d="M388.0 420.3L405.0 410.5L405.0 430.1Z" fill="#000080"/>
<path d="M430.7 455.4L447.7 445.6L447.7 465.2Z" fill="#000080"/>
<path d="M473.4 459.1L490.3 449.3L490.3 468.9Z" fill="#000080"/>
<path d="M516.0 465.6L533.0 455.8L533.0 475.4Z" fill="#000080"/>
<path d="M558.7 398.7L575.7 388.9L575.7 408.5Z" fill="#000080"/>
<path d="M601.4 378.8L618.4 369.0L618.4 388.6Z" fill="#000080"/>
<path d="M644.1 545.9L661.1 536.1L661.1 555.7Z" fill="#000080"/>
<path d="M686.8 441.1L703.7 431.3L703.7 450.9Z" fill="#000080"/>
<path d="M729.4 517.9L746.4 508.1L746.4 527.7Z" fill="#000080"/>
<path d="M772.1 378.8L789.1 369.0L789.1 388.6Z" fill="#000080"/>
<path d="M814.8 504.5L831.8 494.7L831.8 514.3Z" fill="#000080"/>
<path d="M857.5 403.8L874.5 394.0L874.5 413.6Z" fill="#000080"/>
<path d="M900.2 413.4L917.1 403.6L917.1 423.2Z" fill="#000080"/>
<path d="M942.8 504.4L959.8 494.6L959.8 514.2Z" fill="#000080"/>
<path d="M985.5 543.9L1002.5 534.1L1002.5 553.7Z" fill="#000080"/>
<path d="M1028.2 600.0L1045.2 590.2L1045.2 609.8Z" fill="#000080"/>
<path d="M1070.9 753.6L1087.9 743.8L1087.9 763.4Z" fill="#000080"/>
<path d="M1113.6 869.5L1130.5 859.7L1130.5 879.3Z" fill="#000080"/>
<path d="M1156.2 916.6L1173.2 906.8L1173.2 926.4Z" fill="#000080"/>
<path d="M1198.9 931.0L1215.9 921.2L1215.9 940.8Z" fill="#000080"/>
<path d="M1241.6 968.5L1258.6 958.7L1258.6 978.3Z" fill="#000080"/>
<path d="M1284.3 970.1L1301.3 960.3L1301.3 979.9Z" fill="#000080"/>
<path d="M1327.0 974.9L1343.9 965.1L1343.9 984.7Z" fill="#000080"/>
<path d="M1369.6 1000.6L1386.6 990.8L1386.6 1010.4Z" fill="#000080"/>
<path d="M1412.3 1014.7L1429.3 1004.9L1429.3 1024.5Z" fill="#000080"/>
<path d="M1455.0 1033.8L1472.0 1024.0L1472.0 1043.6Z" fill="#000080"/>
<path d="M1497.7 1043.3L1514.7 1033.5L1514.7 1053.1Z" fill="#000080"/>
<path d="M1540.4 1043.3L1557.3 1033.5L1557.3 1053.1Z" fill="#000080"/>
<path d="M1583.0 1043.3L1600.0 1033.5L1600.0 1053.1Z" fill="#000080"/>
<polyline fill="none" stroke-width="1.4" stroke-linejoin="round" stroke="#8000ff" points="228.6,1040.2 237.1,1038.0 245.7,1039.0 254.2,1044.8 262.7,1044.8 271.3,1049.4 279.8,1045.0 288.4,1040.2 296.9,1043.9 305.4,1045.7 314.0,1033.4 322.5,1036.6 331.0,1034.3 339.6,1032.0 348.1,1050.3 356.6,860.3 365.2,700.0 373.7,587.0 382.2,493.6 390.8,523.3 399.3,507.8 407.9,462.8 416.4,474.2 424.9,500.0 433.5,527.0 442.0,495.4 450.5,538.5 459.1,505.5 467.6,507.7 476.1,528.9 484.7,501.9 493.2,527.6 501.8,519.4 510.3,502.7 518.8,574.0 527.4,539.3 535.9,521.8 544.4,498.3 553.0,500.5 561.5,499.0 570.0,583.6 578.6,535.6 587.1,560.8 595.6,542.7 604.2,549.3 612.7,498.9 621.3,529.3 629.8,486.7 638.3,525.1 646.9,577.0 655.4,461.2 663.9,496.0 672.5,543.8 681.0,564.6 689.5,592.6 698.1,510.6 706.6,525.1 715.2,537.6 723.7,529.3 732.2,511.6 740.8,568.7 749.3,575.0 757.8,560.4 766.4,558.4 774.9,468.0 783.4,517.0 792.0,495.0 800.5,523.6 809.0,560.0 817.6,546.0 826.1,545.4 834.7,517.3 843.2,536.4 851.7,517.3 860.3,539.6 868.8,445.4 877.3,491.7 885.9,533.2 894.4,555.6 902.9,552.4 911.5,584.3 920.0,593.9 928.6,622.7 937.1,633.9 945.6,543.9 954.2,536.3 962.7,642.5 971.2,660.8 979.8,592.5 988.3,587.9 996.8,603.1 1005.4,657.7 1013.9,641.0 1022.4,619.8 1031.0,551.5 1039.5,635.0 1048.1,666.8 1056.6,707.8 1065.1,726.0 1073.7,710.8 1082.2,716.4 1090.7,735.0 1099.3,753.9 1107.8,777.4 1116.3,800.0 1124.9,817.6 1133.4,824.3 1142.0,864.5 1150.5,847.7 1159.0,841.0 1167.6,864.8 1176.1,872.8 1184.6,893.5 1193.2,903.1 1201.7,915.1 1210.2,920.6 1218.8,919.0 1227.3,917.4 1235.8,946.2 1244.4,936.6 1252.9,957.3 1261.5,943.0 1270.0,948.6 1278.5,950.2 1287.1,968.5 1295.6,972.5 1304.1,966.1 1312.7,982.1 1321.2,982.1 1329.7,990.9 1338.3,1000.4 1346.8,998.0 1355.4,980.5 1363.9,1007.6 1372.4,1015.6 1381.0,1025.2 1389.5,1025.0 1398.0,1021.3 1406.6,1042.6 1415.1,1028.6 1423.6,1029.4 1432.2,1029.7 1440.7,1029.7 1449.2,1029.7 1457.8,1029.7 1466.3,1029.7 1474.9,1029.7 1483.4,1029.7 1491.9,1029.7 1500.5,1029.7 1509.0,1029.7 1517.5,1029.7 1526.1,1029.7 1534.6,1029.7 1543.1,1029.7 1551.7,1029.7 1560.2,1029.7 1568.8,1029.7 1577.3,1029.7 1585.8,1029.7 1594.4,1029.7"/>
<path d="M239.9 1040.2L222.9 1030.4L222.9 1050.0Z" fill="#8000ff"/>
<path d="M282.6 1049.4L265.6 1039.6L265.6 1059.2Z" fill="#8000ff"/>
<path d="M325.3 1033.4L308.3 1023.6L308.3 1043.2Z" fill="#8000ff"/>
<path d="M368.0 860.3L351.0 850.5L351.0 870.1Z" fill="#8000ff"/>
<path d="M410.6 507.8L393.7 498.0L393.7 517.6Z" fill="#8000ff"/>
<path d="M453.3 495.4L436.3 485.6L436.3 505.2Z" fill="#8000ff"/>
<path d="M496.0 501.9L479.0 492.1L479.0 511.7Z" fill="#8000ff"/>
<path d="M538.7 539.3L521.7 529.5L521.7 549.1Z" fill="#8000ff"/>
<path d="M581.4 583.6L564.4 573.8L564.4 593.4Z" fill="#8000ff"/>
<path d="M624.0 498.9L607.1 489.1L607.1 508.7Z" fill="#8000ff"/>
<path d="M666.7 461.2L649.7 451.4L649.7 471.0Z" fill="#8000ff"/>
<path d="M709.4 510.6L692.4 500.8L692.4 520.4Z" fill="#8000ff"/>
<path d="M752.1 568.7L735.1 558.9L735.1 578.5Z" fill="#8000ff"/>
<path d="M794.8 517.0L777.8 507.2L777.8 526.8Z" fill="#8000ff"/>
<path d="M837.4 545.4L820.5 535.6L820.5 555.2Z" fill="#8000ff"/>
<path d="M880.1 445.4L863.1 435.6L863.1 455.2Z" fill="#8000ff"/>
<path d="M922.8 584.3L905.8 574.5L905.8 594.1Z" fill="#8000ff"/>
<path d="M965.5 536.3L948.5 526.5L948.5 546.1Z" fill="#8000ff"/>
<path d="M1008.2 603.1L991.2 593.3L991.2 612.9Z" fill="#8000ff"/>
<path d="M1050.8 635.0L1033.9 625.2L1033.9 644.8Z" fill="#8000ff"/>
<path d="M1093.5 716.4L1076.5 706.6L1076.5 726.2Z" fill="#8000ff"/>
<path d="M1136.2 817.6L1119.2 807.8L1119.2 827.4Z" fill="#8000ff"/>
<path d="M1178.9 864.8L1161.9 855.0L1161.9 874.6Z" fill="#8000ff"/>
<path d="M1221.6 920.6L1204.6 910.8L1204.6 930.4Z" fill="#8000ff"/>
<path d="M1264.2 957.3L1247.3 947.5L1247.3 967.1Z" fill="#8000ff"/>
<path d="M1306.9 972.5L1289.9 962.7L1289.9 982.3Z" fill="#8000ff"/>
<path d="M1349.6 1000.4L1332.6 990.6L1332.6 1010.2Z" fill="#8000ff"/>
<path d="M1392.3 1025.2L1375.3 1015.4L1375.3 1035.0Z" fill="#8000ff"/>
<path d="M1435.0 1029.4L1418.0 1019.6L1418.0 1039.2Z" fill="#8000ff"/>
<path d="M1477.6 1029.7L1460.7 1019.9L1460.7 1039.5Z" fill="#8000ff"/>
<path d="M1520.3 1029.7L1503.3 1019.9L1503.3 1039.5Z" fill="#8000ff"/>
<path d="M1563.0 1029.7L1546.0 1019.9L1546.0 1039.5Z" fill="#8000ff"/>
<path d="M1605.7 1029.7L1588.7 1019.9L1588.7 1039.5Z" fill="#8000ff"/>
<g font-size="58">
<text x="194.6" y="1062.3" text-anchor="end">0.00</text>
<text x="194.6" y="920.7" text-anchor="end">0.05</text>
<text x="194.6" y="779.1" text-anchor="end">0.10</text>
<text x="194.6" y="637.5" text-anchor="end">0.15</text>
<text x="194.6" y="495.8" text-anchor="end">0.20</text>
<text x="194.6" y="354.2" text-anchor="end">0.25</text>
<text x="194.6" y="212.6" text-anchor="end">0.30</text>
<text x="194.6" y="71.0" text-anchor="end">0.35</text>
<text x="228.6" y="1152.2" text-anchor="middle">0</text>
<text x="442.0" y="1152.2" text-anchor="middle">50</text>
<text x="655.4" y="1152.2" text-anchor="middle">100</text>
<text x="868.8" y="1152.2" text-anchor="middle">150</text>
<text x="1082.2" y="1152.2" text-anchor="middle">200</text>
<text x="1295.6" y="1152.2" text-anchor="middle">250</text>
<text x="1509.0" y="1152.2" text-anchor="middle">300</text>
</g>
<text x="911.2" y="1221.1" font-size="62.3" text-anchor="middle">Time (s)</text>
<text transform="translate(70.8,563.3) rotate(-90)" font-size="62.3" text-anchor="middle">SPR (m<tspan font-size="37.6" dy="-29.6">2</tspan><tspan dy="29.6">/s)</tspan></text>
<rect x="1241.2" y="81.3" width="317.4" height="495.4" fill="#fff" stroke="#222" stroke-width="1.6"/>
<line x1="1258.7" y1="126.5" x2="1385" y2="126.5" stroke="#000000" stroke-width="1.3"/>
<rect x="1314.5" y="119.2" width="14.6" height="14.6" fill="#000000"/>
<text x="1398.5" y="145.9" font-size="57">HIPS0</text>
<line x1="1258.7" y1="196.2" x2="1385" y2="196.2" stroke="#ff0000" stroke-width="1.3"/>
<circle cx="1321.8" cy="196.2" r="8.3" fill="#ff0000"/>
<text x="1398.5" y="215.6" font-size="57">HIPS2</text>
<line x1="1258.7" y1="266.0" x2="1385" y2="266.0" stroke="#0000ff" stroke-width="1.3"/>
<path d="M1321.8 254.6L1331.6 271.6L1312.0 271.6Z" fill="#0000ff"/>
<text x="1398.5" y="285.4" font-size="57">HIPS3</text>
<line x1="1258.7" y1="335.7" x2="1385" y2="335.7" stroke="#ff00ff" stroke-width="1.3"/>
<path d="M1321.8 347.0L1331.6 330.0L1312.0 330.0Z" fill="#ff00ff"/>
<text x="1398.5" y="355.1" font-size="57">HIPS4</text>
<line x1="1258.7" y1="405.4" x2="1385" y2="405.4" stroke="#008000" stroke-width="1.3"/>
<path d="M1321.8 395.3L1332.1 405.4L1321.8 415.5L1311.5 405.4Z" fill="#008000"/>
<text x="1398.5" y="424.8" font-size="57">HIPS5</text>
<line x1="1258.7" y1="475.2" x2="1385" y2="475.2" stroke="#000080" stroke-width="1.3"/>
<path d="M1310.5 475.2L1327.5 465.4L1327.5 485.0Z" fill="#000080"/>
<text x="1398.5" y="494.6" font-size="57">HIPS6</text>
<line x1="1258.7" y1="544.9" x2="1385" y2="544.9" stroke="#8000ff" stroke-width="1.3"/>
<path d="M1333.1 544.9L1316.1 535.1L1316.1 554.7Z" fill="#8000ff"/>
<text x="1398.5" y="564.3" font-size="57">HIPS7</text>
</svg>
</body></html>
